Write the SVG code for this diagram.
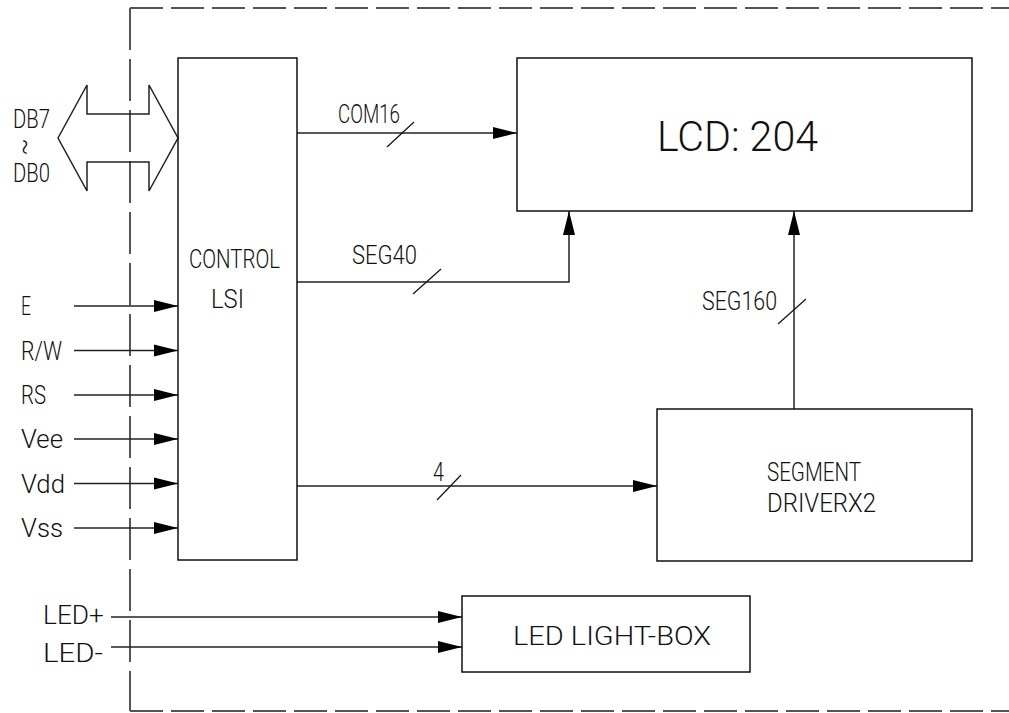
<svg xmlns="http://www.w3.org/2000/svg" width="1009" height="713" viewBox="0 0 1009 713">
<style>
.box{fill:none;stroke:#111;stroke-width:1.5}
.ln{fill:none;stroke:#222;stroke-width:1.5}
.sl{fill:none;stroke:#111;stroke-width:1.2}
.dash{fill:none;stroke:#555;stroke-width:2;stroke-dasharray:33 8}
.dashv{fill:none;stroke:#555;stroke-width:2;stroke-dasharray:42 9}
text{font-family:Roboto,"Liberation Sans",sans-serif;font-weight:300;font-size:25px;fill:#111}
.big{font-size:43px}
</style>
<defs>
<marker id="ah" markerUnits="userSpaceOnUse" markerWidth="24" markerHeight="13" refX="24" refY="6.5" orient="auto">
<path d="M0,0.5 L24,6.5 L0,12.5 Z" fill="#000"/>
</marker>
</defs>
<g id="border">
<line class="dash" x1="130" y1="8" x2="1009" y2="8"/>
<line class="dashv" x1="130" y1="8" x2="130" y2="711"/>
<line class="dash" x1="130" y1="711" x2="1009" y2="711"/>
</g>
<g id="connectors">
<polygon class="ln" points="58,138 87,85 87,114 149,114 149,85 178,138 149,191 149,162 87,162 87,191"/>
<line class="ln" x1="297" y1="133" x2="517" y2="133" marker-end="url(#ah)"/>
<line class="sl" x1="387" y1="147" x2="414" y2="122"/>
<polyline class="ln" points="297,282 569,282 569,211" marker-end="url(#ah)"/>
<line class="sl" x1="413" y1="294" x2="441" y2="269"/>
<line class="ln" x1="794" y1="409" x2="794" y2="211" marker-end="url(#ah)"/>
<line class="sl" x1="778" y1="324" x2="806" y2="299"/>
<line class="ln" x1="297" y1="486" x2="657" y2="486" marker-end="url(#ah)"/>
<line class="sl" x1="437" y1="500" x2="461" y2="475"/>
<line class="ln" x1="74" y1="306" x2="178" y2="306" marker-end="url(#ah)"/>
<line class="ln" x1="74" y1="350.5" x2="178" y2="350.5" marker-end="url(#ah)"/>
<line class="ln" x1="74" y1="395" x2="178" y2="395" marker-end="url(#ah)"/>
<line class="ln" x1="74" y1="439" x2="178" y2="439" marker-end="url(#ah)"/>
<line class="ln" x1="74" y1="483.5" x2="178" y2="483.5" marker-end="url(#ah)"/>
<line class="ln" x1="74" y1="528" x2="178" y2="528" marker-end="url(#ah)"/>
<line class="ln" x1="111" y1="617" x2="462" y2="617" marker-end="url(#ah)"/>
<line class="ln" x1="111" y1="647" x2="462" y2="647" marker-end="url(#ah)"/>
</g>
<g id="labels">
<text x="13" y="128" textLength="37" lengthAdjust="spacingAndGlyphs">DB7</text>
<text x="22" y="147" font-size="16" transform="rotate(90 22 147)" text-anchor="middle" dy="5">~</text>
<text x="13" y="182" textLength="37" lengthAdjust="spacingAndGlyphs">DB0</text>
<text x="338" y="123" textLength="62" lengthAdjust="spacingAndGlyphs">COM16</text>
<text x="352" y="264" textLength="65" lengthAdjust="spacingAndGlyphs">SEG40</text>
<text x="702" y="310" textLength="75" lengthAdjust="spacingAndGlyphs">SEG160</text>
<text x="433" y="481" textLength="11" lengthAdjust="spacingAndGlyphs">4</text>
<text x="21" y="315" textLength="10" lengthAdjust="spacingAndGlyphs">E</text>
<text x="21" y="359.5" textLength="41" lengthAdjust="spacingAndGlyphs">R/W</text>
<text x="21" y="404" textLength="25" lengthAdjust="spacingAndGlyphs">RS</text>
<text x="21" y="448" textLength="42" lengthAdjust="spacingAndGlyphs">Vee</text>
<text x="21" y="492.5" textLength="44" lengthAdjust="spacingAndGlyphs">Vdd</text>
<text x="21" y="537" textLength="42" lengthAdjust="spacingAndGlyphs">Vss</text>
<text x="43" y="624" textLength="61" lengthAdjust="spacingAndGlyphs">LED+</text>
<text x="43" y="662" textLength="60" lengthAdjust="spacingAndGlyphs">LED-</text>
</g>
<g id="control-lsi">
<rect class="box" x="178" y="58" width="119" height="502"/>
<text x="189" y="268" textLength="91" lengthAdjust="spacingAndGlyphs">CONTROL</text>
<text x="211" y="308" textLength="33" lengthAdjust="spacingAndGlyphs">LSI</text>
</g>
<g id="lcd">
<rect class="box" x="517" y="58" width="455" height="153"/>
<text class="big" x="657" y="151" textLength="161" lengthAdjust="spacingAndGlyphs">LCD: 204</text>
</g>
<g id="segment-driver">
<rect class="box" x="657" y="409" width="315" height="152"/>
<text x="767" y="481" textLength="94" lengthAdjust="spacingAndGlyphs">SEGMENT</text>
<text x="767" y="512" textLength="109" lengthAdjust="spacingAndGlyphs">DRIVERX2</text>
</g>
<g id="led-light-box">
<rect class="box" x="462" y="596" width="288" height="76"/>
<text x="513" y="645" textLength="198" lengthAdjust="spacingAndGlyphs">LED LIGHT-BOX</text>
</g>
</svg>
